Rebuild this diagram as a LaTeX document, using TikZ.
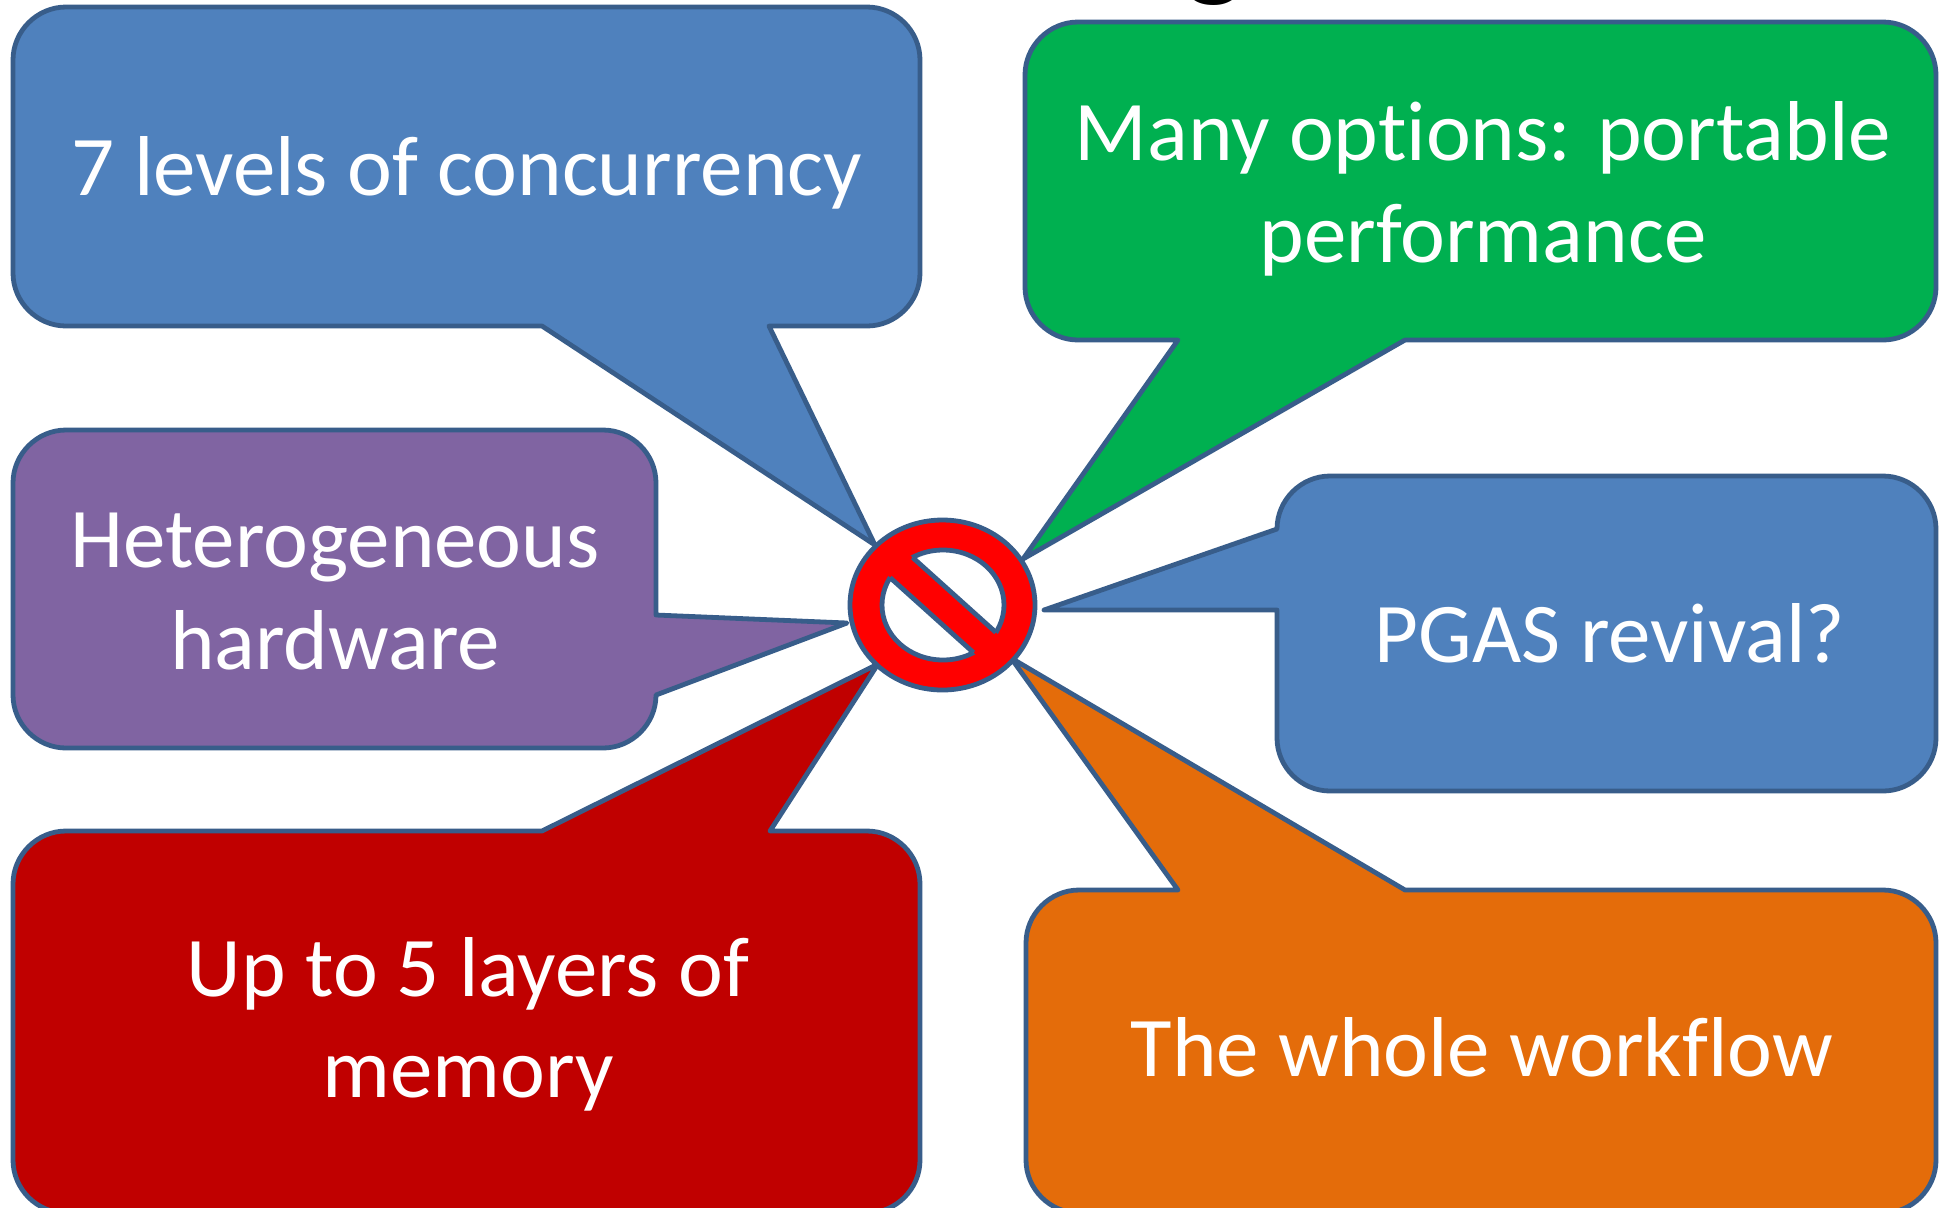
\documentclass[tikz,border=0pt]{standalone}
\usepackage{fontspec}
\setmainfont{Carlito}[Ligatures=CommonOff]
\definecolor{cblue}{HTML}{4F81BD}
\definecolor{cpurple}{HTML}{8064A2}
\definecolor{cred}{HTML}{C00000}
\definecolor{cgreen}{HTML}{00B050}
\definecolor{corange}{HTML}{E46C0A}
\definecolor{cedge}{HTML}{385D8A}
\definecolor{cno}{HTML}{FF0000}
\begin{document}
\begin{tikzpicture}[x=0.5pt,y=-0.5pt,
  callout/.style={draw=cedge, line width=2.4pt, line join=round},
  txt/.style={text=white, font=\fontsize{42.5}{51}\selectfont, anchor=base, inner sep=0pt}]
\useasboundingbox (0,0) rectangle (1939,1207);
\fill[white] (0,0) rectangle (1939,1207);

% partial title letter
\node[anchor=base, font=\fontsize{64}{70}\selectfont, inner sep=0pt] (gtitle) at (1215,-17) {g};

% box 1 (blue, top left)
\filldraw[callout, fill=cblue] (66,7) -- (867,7) .. controls (896,7) and (920,31) .. (920,60) -- (920,273) .. controls (920,302) and (896,326) .. (867,326) -- (769,326) -- (875,545) -- (542,326) -- (66,326) .. controls (37,326) and (13,302) .. (13,273) -- (13,60) .. controls (13,31) and (37,7) .. (66,7) -- cycle;

% box 2 (purple)
\filldraw[callout, fill=cpurple] (66,430) -- (603,430) .. controls (632,430) and (656,454) .. (656,483) -- (656,615) -- (847,623) -- (656,695) .. controls (656,724) and (632,748) .. (603,748) -- (66,748) .. controls (37,748) and (13,724) .. (13,695) -- (13,483) .. controls (13,454) and (37,430) .. (66,430) -- cycle;

% box 3 (red)
\filldraw[callout, fill=cred] (66,831) -- (542,831) -- (878,664) -- (770,831) -- (867,831) .. controls (896,831) and (920,855) .. (920,884) -- (920,1160) .. controls (920,1189) and (896,1213) .. (867,1213) -- (66,1213) .. controls (37,1213) and (13,1189) .. (13,1160) -- (13,884) .. controls (13,855) and (37,831) .. (66,831) -- cycle;

% box 4 (green)
\filldraw[callout, fill=cgreen] (1078,22) -- (1883,22) .. controls (1912,22) and (1936,46) .. (1936,75) -- (1936,287) .. controls (1936,316) and (1912,340) .. (1883,340) -- (1405,340) -- (1023,559) -- (1178,340) -- (1078,340) .. controls (1049,340) and (1025,316) .. (1025,287) -- (1025,75) .. controls (1025,46) and (1049,22) .. (1078,22) -- cycle;

% box 5 (blue, PGAS)
\filldraw[callout, fill=cblue] (1330,476) -- (1883,476) .. controls (1912,476) and (1936,500) .. (1936,529) -- (1936,738) .. controls (1936,767) and (1912,791) .. (1883,791) -- (1330,791) .. controls (1301,791) and (1277,767) .. (1277,738) -- (1277,610) -- (1044,610) -- (1277,529) .. controls (1277,500) and (1301,476) .. (1330,476) -- cycle;

% box 6 (orange)
\filldraw[callout, fill=corange] (1079,890) -- (1178,890) -- (1011,658) -- (1405,890) -- (1883,890) .. controls (1912,890) and (1936,914) .. (1936,943) -- (1936,1160) .. controls (1936,1189) and (1912,1213) .. (1883,1213) -- (1079,1213) .. controls (1050,1213) and (1026,1189) .. (1026,1160) -- (1026,943) .. controls (1026,914) and (1050,890) .. (1079,890) -- cycle;

% no symbol
\filldraw[callout, fill=cno] (942.5,605) ellipse [x radius=92.5, y radius=85];
\begin{scope}
  \clip (804.4,460) -- (1101.6,727.6) -- (1235.4,579) -- (938.2,311.4) -- cycle;
  \filldraw[callout, fill=white] (943,605) ellipse [x radius=61, y radius=55];
\end{scope}
\begin{scope}
  \clip (784.4,482.3) -- (1081.6,750) -- (947.8,898.6) -- (650.6,630.9) -- cycle;
  \filldraw[callout, fill=white] (943,605) ellipse [x radius=61, y radius=55];
\end{scope}
\draw[callout] (912.5,557.4) -- (995.9,632.4);
\draw[callout] (890.1,577.6) -- (973.5,652.6);

% texts
\node[txt] (t1) at (467,195) {7 levels of concurrency};
\node[txt] (t2a) at (335,567) {Heterogeneous};
\node[txt] (t2b) at (335,669) {hardware};
\node[txt] (t3a) at (468,996) {Up to 5 layers of};
\node[txt] (t3b) at (468,1097) {memory};
\node[txt] (t4a) at (1483,160) {Many options: portable};
\node[txt] (t4b) at (1483,262) {performance};
\node[txt] (t5) at (1610,662) {PGAS revival?};
\node[txt] (t6) at (1482,1076) {The whole workflow};
\end{tikzpicture}
\end{document}
